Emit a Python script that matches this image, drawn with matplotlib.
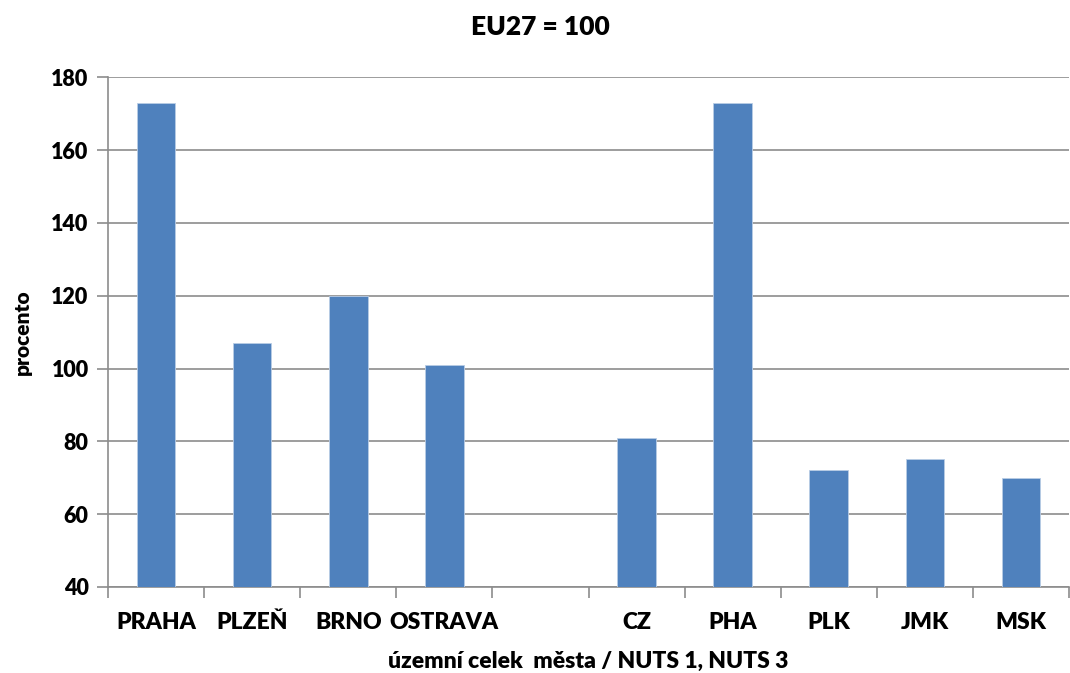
import matplotlib
matplotlib.use("Agg")
import matplotlib.pyplot as plt
import numpy as np

categories = ["PRAHA", "PLZEŇ", "BRNO", "OSTRAVA", "", "CZ", "PHA", "PLK", "JMK", "MSK"]
values = [173, 107, 120, 101, np.nan, 81, 173, 72, 75, 70]
yticks = [40, 60, 80, 100, 120, 140, 160, 180]

plt.rcParams['font.family'] = ['Lato', 'DejaVu Sans']
W = 'heavy'

fig = plt.figure(figsize=(10.7, 6.73), dpi=100)
ax = fig.add_axes([0.101, 0.128, 0.898, 0.757])

x = np.arange(len(categories))
ax.bar(x, values, width=0.4, color="#4F81BD", edgecolor="#B9CDE5", linewidth=0.6, zorder=3)

ax.set_xlim(-0.5, len(categories) - 0.5)
ax.set_ylim(40, 180)
ax.set_yticks(yticks)
ax.set_yticklabels([str(t) for t in yticks], fontsize=15.5, fontweight=W)
ax.yaxis.grid(True, color="#8C8C8C", linewidth=1.2, zorder=0)

ax.set_xticks(x)
ax.set_xticklabels(categories, fontsize=16.5, fontweight=W)
ax.tick_params(axis='x', which='major', length=0, pad=18)
ax.set_xticks(np.arange(-0.5, len(categories), 1.0), minor=True)
ax.tick_params(axis='x', which='minor', length=8, color="#8C8C8C", width=1.2)
ax.tick_params(axis='y', length=8, color="#8C8C8C", width=1.2, pad=6)

for s in ["top", "right"]:
    ax.spines[s].set_visible(False)
for s in ["left", "bottom"]:
    ax.spines[s].set_color("#8C8C8C")
    ax.spines[s].set_linewidth(1.2)

fig.text(0.505, 0.96, "EU27 = 100", fontsize=19, fontweight=W, ha='center', va='center')
ax.set_ylabel("procento", fontsize=15, fontweight=W, labelpad=14)
ax.set_xlabel("územní celek  města / NUTS 1, NUTS 3", fontsize=16.5, fontweight=W, labelpad=13)

fig.savefig("out.png", dpi=100)
